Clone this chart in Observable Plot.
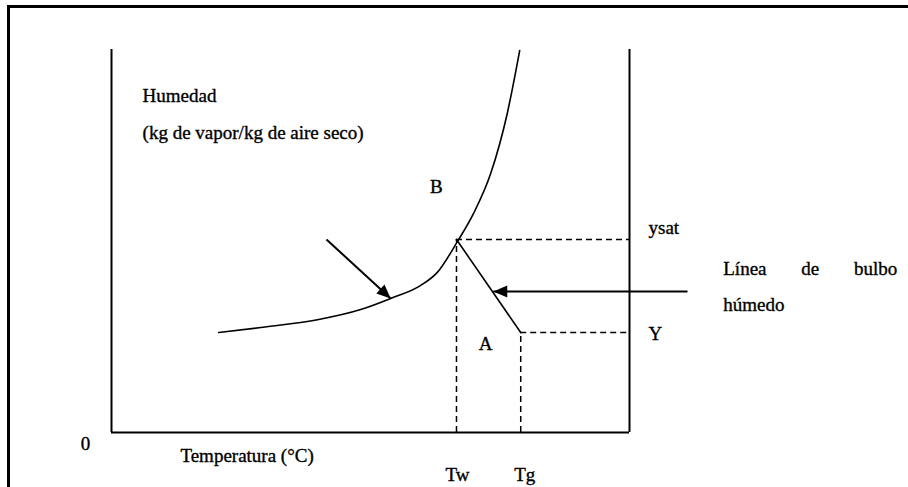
<!DOCTYPE html>
<html>
<head>
<meta charset="utf-8">
<script src="https://cdn.jsdelivr.net/npm/d3@7"></script>
<script src="https://cdn.jsdelivr.net/npm/@observablehq/plot@0.6"></script>
<style>
  html, body { margin: 0; padding: 0; background: #fff; }
  #wrap { position: relative; width: 908px; height: 487px; overflow: hidden; }
  #page-edge {
    position: absolute; left: 7px; top: 5px; right: -10px; bottom: -10px;
    border-top: 3px solid #000; border-left: 3px solid #000;
    pointer-events: none;
  }
  #wrap svg text { font-family: "Liberation Serif", "Times New Roman", serif !important; }
</style>
</head>
<body>
<div id="wrap"><div id="page-edge"></div></div>
<script>
// Psychrometric sketch: saturation curve and the wet-bulb line (arbitrary units, 0–100)
const saturationCurve = [
  [20.7, 26.1], [28.8, 27.4], [40.0, 29.5], [48.1, 32.1], [53.9, 35.0],
  [59.7, 38.4], [62.9, 41.8], [66.8, 49.9], [69.9, 57.2],
  [73.2, 67.6], [76.4, 83.3], [78.8, 99.7]
];
const Tw = 66.6;     // wet-bulb temperature
const Tg = 79.0;     // gas temperature
const ysat = 50.4;   // saturation humidity at Tw
const Y = 26.1;      // gas humidity

// arrows: [x1, y1, x2, y2]
const arrows = [
  [41.5, 50.4, 53.9, 35.0],   // points at the saturation curve
  [111.2, 36.8, 73.7, 36.8]   // points at the wet-bulb line
];

const axisTitle = ["Humedad", "(kg de vapor/kg de aire seco)"];
const xTitle = "Temperatura (°C)";
const wetBulbLabel = ["Línea de bulbo", "húmedo"];

const font = "Liberation Serif, Times New Roman, serif";
const fs = 19;
const txt = {lineAnchor: "middle", fill: "#000", stroke: "#000", strokeWidth: 0.35, fontFamily: font, fontSize: fs};

const plot = Plot.plot({
  width: 908,
  height: 487,
  marginLeft: 111,
  marginRight: 279,
  marginTop: 49,
  marginBottom: 55,
  style: {fontSize: fs + "px", background: "transparent", overflow: "visible"},
  x: {domain: [0, 100], axis: null},
  y: {domain: [0, 100], axis: null},
  marks: [
    // axes box (left, right, bottom)
    Plot.ruleX([0, 100], {y1: 0, y2: 100, stroke: "#000", strokeWidth: 2}),
    Plot.ruleY([0], {x1: 0, x2: 100, stroke: "#000", strokeWidth: 2}),
    // dashed guides
    Plot.ruleY([ysat], {x1: Tw, x2: 100, stroke: "#000", strokeWidth: 1.5, strokeDasharray: "6,4"}),
    Plot.ruleY([Y], {x1: Tg, x2: 100, stroke: "#000", strokeWidth: 1.5, strokeDasharray: "6,4"}),
    Plot.ruleX([Tw], {y1: 0, y2: ysat, stroke: "#000", strokeWidth: 1.5, strokeDasharray: "6,4"}),
    Plot.ruleX([Tg], {y1: 0, y2: Y, stroke: "#000", strokeWidth: 1.5, strokeDasharray: "6,4"}),
    // saturation curve
    Plot.line(saturationCurve, {x: d => d[0], y: d => d[1], curve: "monotone-x", stroke: "#000", strokeWidth: 1.6}),
    // wet-bulb line
    Plot.line([[Tw, ysat], [Tg, Y]], {x: d => d[0], y: d => d[1], stroke: "#000", strokeWidth: 1.6}),
    // arrows
    Plot.link(arrows, {x1: d => d[0], y1: d => d[1], x2: d => d[2], y2: d => d[3],
      stroke: "#000", strokeWidth: 2, markerEnd: "arrow"}),
    // labels
    Plot.text(axisTitle, {...txt, x: 6.0, y: (d, i) => [88.0, 78.3][i], text: d => d, textAnchor: "start"}),
    Plot.text([xTitle], {...txt, x: 13.3, y: -6.0, text: d => d, textAnchor: "start"}),
    Plot.text(["0"], {...txt, x: -5.0, y: -2.9, text: d => d}),
    Plot.text(["Tw"], {...txt, x: Tw, y: -11, dx: 1, text: d => d}),
    Plot.text(["Tg"], {...txt, x: Tg, y: -11, dx: 4, text: d => d}),
    Plot.text(["ysat"], {...txt, x: 100, y: ysat, dx: 19, dy: -12, text: d => d, textAnchor: "start"}),
    Plot.text(["Y"], {...txt, x: 100, y: Y, dx: 19, dy: 1, text: d => d, textAnchor: "start"}),
    Plot.text(["B"], {...txt, x: 62.7, y: 64.0, text: d => d}),
    Plot.text(["A"], {...txt, x: 72.2, y: 23.2, text: d => d}),
    Plot.text(wetBulbLabel, {...txt, x: 118.1, y: (d, i) => [42.8, 33.2][i], text: d => d, textAnchor: "start"})
  ]
});

document.getElementById("wrap").prepend(plot);

// filled arrowheads
d3.select(plot).selectAll("marker")
  .attr("viewBox", "-16 -8 18 16")
  .attr("markerUnits", "userSpaceOnUse")
  .attr("markerWidth", 18)
  .attr("markerHeight", 16)
  .attr("fill", "#000")
  .attr("stroke", "none")
  .selectAll("path")
  .attr("d", "M-14,-6L0,0L-14,6Z");

// justify the first line of the wet-bulb label
const justifyWidth = 174;
d3.select(plot).selectAll("text")
  .filter(function() { return this.textContent === wetBulbLabel[0]; })
  .each(function() {
    const words = wetBulbLabel[0].split(" ").length;
    const extra = (justifyWidth - this.getComputedTextLength()) / (words - 1);
    d3.select(this).attr("word-spacing", extra);
  });
</script>
</body>
</html>
